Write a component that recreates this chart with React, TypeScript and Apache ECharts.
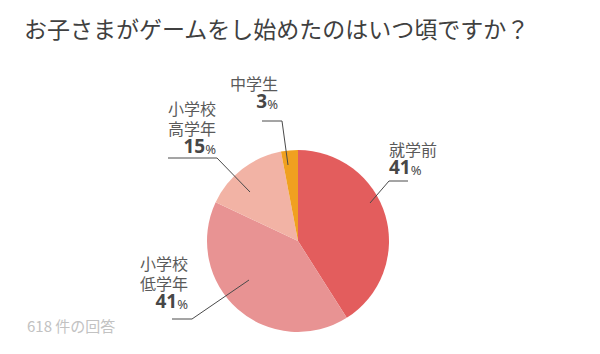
import React, { useEffect, useRef } from "react";
import * as echarts from "echarts";

const titleText = "お子さまがゲームをし始めたのはいつ頃ですか？";
const footerText = "618 件の回答";
const categories = ["就学前", "小学校\n低学年", "小学校\n高学年", "中学生"];
const values = [41, 41, 15, 3];
const colors = ["#e35d5d", "#e89393", "#f2b3a5", "#f0a020"];

// annotation layout (label anchor + leader line points), in pixels
const labelLayout = [
  { x: 389, y: 139, align: "left", line: [[370, 203], [389, 181], [408, 181]] },
  { x: 188, y: 253, align: "right", line: [[249, 280], [192, 319], [172, 319]] },
  { x: 216, y: 98, align: "right", line: [[250, 192], [217, 158], [168, 158]] },
  { x: 278, y: 73, align: "right", line: [[288, 165], [282, 121], [262, 121]] },
];

const JP = "'Noto Sans CJK JP', sans-serif";

export default function App() {
  const ref = useRef<HTMLDivElement>(null);
  useEffect(() => {
    if (!ref.current) return;
    const chart = echarts.init(ref.current, null, { renderer: "svg" });
    const graphics: any[] = [];
    categories.forEach((c, i) => {
      const L = labelLayout[i];
      const lines = c.split("\n");
      graphics.push({
        type: "polyline",
        shape: { points: L.line },
        style: { stroke: "#4a4a4a", lineWidth: 1, fill: "none" },
        z: 10,
      });
      lines.forEach((s, k) => {
        graphics.push({
          type: "text",
          x: L.x,
          y: L.y + k * 20 + 1,
          z: 10,
          style: {
            text: s,
            align: L.align,
            verticalAlign: "top",
            fontSize: 16,
            lineHeight: 18,
            fill: "#5a5a5a",
            fontFamily: JP,
          },
        });
      });
      graphics.push({
        type: "text",
        x: L.x,
        y: L.y + lines.length * 20 - 1,
        z: 10,
        style: {
          text: `{v|${values[i]}}{p|%}`,
          align: L.align,
          verticalAlign: "top",
          rich: {
            v: { fontSize: 19, lineHeight: 18, fill: "#474747", fontWeight: "bold", fontFamily: "'Noto Sans', sans-serif" },
            p: { fontSize: 13, lineHeight: 18, fill: "#474747", fontFamily: "'Noto Sans', sans-serif", verticalAlign: "bottom" },
          },
        },
      });
    });
    graphics.push({
      type: "text",
      left: 24,
      top: 16,
      style: {
        text: titleText,
        fontSize: 23,
        fill: "#404040",
        fontFamily: JP,
      },
    });
    graphics.push({
      type: "text",
      left: 27,
      top: 318,
      style: {
        text: footerText,
        fontSize: 15,
        fill: "#c2c2c2",
        fontFamily: JP,
      },
    });
    chart.setOption({
      animation: false,
      backgroundColor: "#ffffff",
      graphic: graphics,
      series: [
        {
          type: "pie",
          center: [298, 241],
          radius: 91,
          startAngle: 90,
          clockwise: true,
          label: { show: false },
          labelLine: { show: false },
          silent: true,
          itemStyle: { borderWidth: 0 },
          data: categories.map((c, i) => ({
            name: c,
            value: values[i],
            itemStyle: { color: colors[i] },
          })),
        },
      ],
    });
    return () => chart.dispose();
  }, []);
  return <div ref={ref} style={{ width: 600, height: 354, position: "absolute", left: 0, top: 0 }} />;
}
